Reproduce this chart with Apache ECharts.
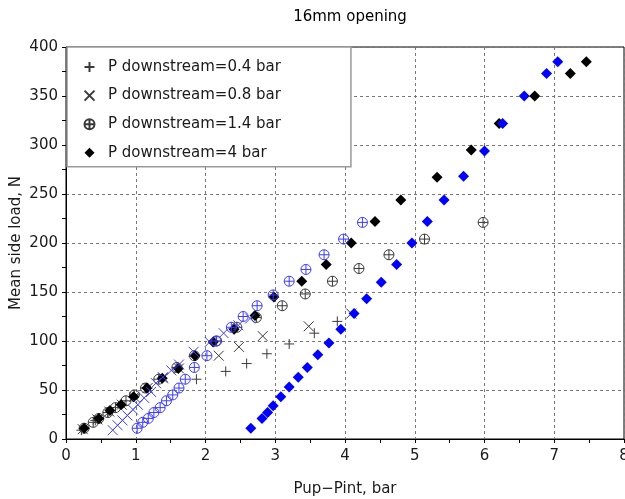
<!DOCTYPE html>
<html>
<head>
<meta charset="utf-8">
<script src="https://cdn.jsdelivr.net/npm/echarts@6/dist/echarts.min.js"></script>
<style>
html,body{margin:0;padding:0;background:#fff;}
#chart{width:625px;height:499px;}
</style>
</head>
<body>
<div id="chart"></div>
<script>
// ---- data (x = Pup-Pint [bar], y = mean side load [N]) ----
const titleText = '16mm opening';
const xName = 'Pup\u2212Pint, bar';
const yName = 'Mean side load, N';
const legendNames = ['P downstream=0.4 bar', 'P downstream=0.8 bar', 'P downstream=1.4 bar', 'P downstream=4 bar'];

const black04 = [[0.22,9],[0.42,19],[0.60,27],[0.78,35],[0.96,43],[1.17,52],
  [1.87,61],[2.29,69],[2.59,77],[2.88,87],[3.20,97],[3.56,108],[3.89,120]];
const black08 = [[0.24,10],[0.45,20],[0.62,28],[0.80,35],[0.98,43],[1.17,52],[1.39,62],[1.62,72],
  [2.19,85],[2.48,94],[2.82,105],[3.48,115],[4.09,128]];
const black14 = [[0.26,11],[0.39,17],[0.47,21],[0.60,27],[0.71,32],[0.86,39],[0.98,45],[1.14,52],[1.33,61],
  [1.59,73],[1.84,85],[2.16,100],[2.45,114],
  [2.73,124],[3.10,136],[3.43,148],[3.82,161],[4.20,174],[4.63,188],[5.14,204],[5.98,221]];
const black4 = [[0.26,11],[0.47,21],[0.63,29],[0.79,35],[0.97,43],[1.16,52],[1.38,62],[1.61,72],
  [1.85,85],[2.11,99],[2.41,112],[2.71,126],[2.98,145],[3.38,161],[3.73,178],[4.09,200],
  [4.43,222],[4.80,244],[5.32,267],[5.81,295],[6.21,322],[6.72,350],[7.23,373],[7.46,385]];

const blue08 = [[0.67,9],[0.74,14],[0.81,19],[0.88,24],[0.96,30],[1.03,35],[1.12,42],[1.22,48],
  [1.29,57],[1.39,63],[1.51,70],[1.62,76],[1.83,89],[2.06,99],[2.26,108],[2.47,116],[2.64,123]];
const blue14 = [[1.02,11],[1.10,17],[1.18,21],[1.26,27],[1.35,32],[1.44,39],[1.53,45],[1.62,52],
  [1.71,61],[1.84,73],[2.02,85],[2.15,100],[2.37,114],[2.54,125],[2.74,136],[2.97,147],
  [3.20,161],[3.44,173],[3.70,188],[3.98,204],[4.25,221]];
const blue4 = [[2.65,11],[2.81,21],[2.89,27],[2.97,34],[3.08,43],[3.20,53],[3.33,63],[3.46,73],
  [3.61,86],[3.77,98],[3.94,112],[4.13,128],[4.31,143],[4.52,160],[4.74,178],[4.96,200],
  [5.18,222],[5.42,244],[5.70,268],[6.00,294],[6.26,322],[6.57,350],[6.89,373],[7.05,385]];

const xTicks = {min:0, max:8, interval:1};
const yTicks = {min:0, max:400, interval:50};

// ---- chart ----
const FONT = 'DejaVu Sans';
const PLUS = 'path://M5,0L5,10M0,5L10,5';
const CROSS = 'path://M0,0L10,10M10,0L0,10';
const OPLUS = 'path://M10,5A5,5,0,1,1,0,5A5,5,0,1,1,10,5ZM5,0L5,10M0,5L10,5';
const DIAMOND = 'path://M5,0L10,5L5,10L0,5Z';
const GREY = '#3a3a3a';
const BLUE_LINE = '#3d3dff';
const BLUE = '#0000ff';

function strokeSeries(name, data, symbol, size, color) {
  return {name, type:'scatter', data, symbol, symbolSize:size, symbolKeepAspect:true,
    itemStyle:{color:'none', borderColor:color, borderWidth:1, opacity:1},
    emphasis:{disabled:true}};
}
function fillSeries(name, data, symbol, size, color) {
  return {name, type:'scatter', data, symbol, symbolSize:size, symbolKeepAspect:true,
    itemStyle:{color, borderWidth:0, opacity:1}, emphasis:{disabled:true}};
}

const chart = echarts.init(document.getElementById('chart'), null, {renderer:'canvas'});
chart.setOption({
  animation:false,
  backgroundColor:'#fff',
  title:{text:titleText, left:345, top:5, textAlign:'center',
    textStyle:{fontFamily:FONT, fontSize:15, fontWeight:'normal', color:'#000'}},
  grid:{left:66, right:1, top:47, bottom:60, show:true, borderColor:'#000', borderWidth:1,
    containLabel:false, outerBoundsMode:'none'},
  legend:{data:legendNames, orient:'vertical', left:67, top:47,
    padding:[11,70,5,15], itemGap:10.6, itemWidth:27, itemHeight:10, symbolKeepAspect:true,
    backgroundColor:'#fff', borderColor:'#999', borderWidth:1.5,
    textStyle:{fontFamily:FONT, fontSize:15, color:'#1a1a1a', lineHeight:18}},
  xAxis:{type:'value', min:xTicks.min, max:xTicks.max, interval:xTicks.interval,
    name:xName, nameLocation:'middle', nameGap:43,
    nameTextStyle:{fontFamily:FONT, fontSize:15, color:'#1a1a1a'},
    axisLine:{show:true, onZero:false, lineStyle:{color:'#000', width:1}},
    axisTick:{show:true, inside:false, length:4, lineStyle:{color:'#000'}},
    minorTick:{show:true, splitNumber:2, length:4, lineStyle:{color:'#000'}},
    splitLine:{show:true, lineStyle:{color:'#777', type:[3,3], width:1}},
    axisLabel:{fontFamily:FONT, fontSize:15, color:'#1a1a1a', margin:10, showMaxLabel:true}},
  yAxis:{type:'value', min:yTicks.min, max:yTicks.max, interval:yTicks.interval,
    name:yName, nameLocation:'middle', nameGap:42, nameRotate:90, nameMoveOverlap:false,
    nameTextStyle:{fontFamily:FONT, fontSize:15, color:'#1a1a1a'},
    axisLine:{show:true, onZero:false, lineStyle:{color:'#000', width:1}},
    axisTick:{show:true, inside:false, length:4, lineStyle:{color:'#000'}},
    minorTick:{show:true, splitNumber:2, length:4, lineStyle:{color:'#000'}},
    splitLine:{show:true, lineStyle:{color:'#777', type:[3,3], width:1}},
    axisLabel:{fontFamily:FONT, fontSize:15, color:'#1a1a1a', margin:8}},
  series:[
    strokeSeries(legendNames[0], black04, PLUS, 10, GREY),
    strokeSeries(legendNames[1], black08, CROSS, 10, GREY),
    strokeSeries(legendNames[2], black14, OPLUS, 10, GREY),
    fillSeries(legendNames[3], black4, DIAMOND, 11, '#000'),
    strokeSeries('blue 0.8', blue08, CROSS, 10, BLUE_LINE),
    strokeSeries('blue 1.4', blue14, OPLUS, 10, BLUE_LINE),
    fillSeries('blue 4', blue4, DIAMOND, 11, BLUE)
  ]
});
</script>
</body>
</html>
